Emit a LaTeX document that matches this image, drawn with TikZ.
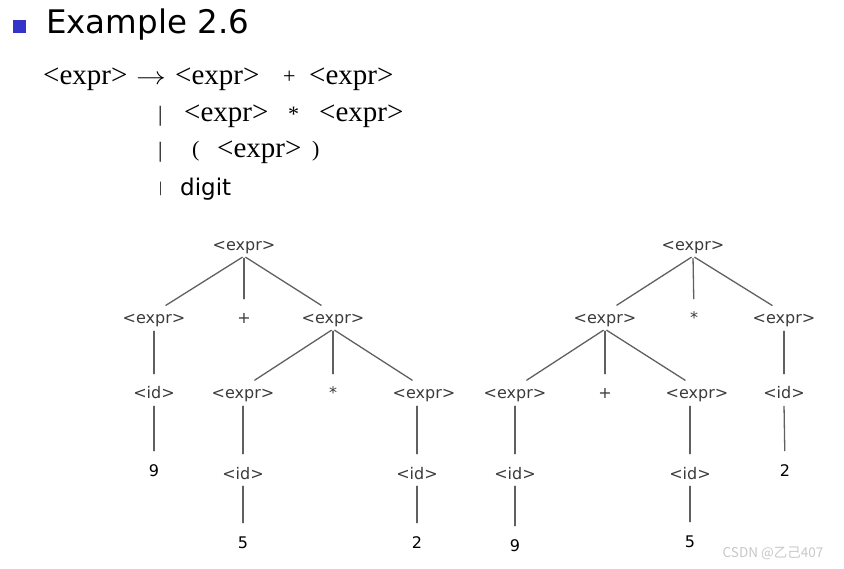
\documentclass[tikz,border=0pt]{standalone}
\usepackage{fontspec}
\setmainfont{Liberation Serif}
\newfontfamily\treefont{DejaVu Sans}
\newfontfamily\cjkfont{Noto Sans CJK SC}
\usetikzlibrary{positioning}

\definecolor{bulletblue}{HTML}{3434C8}
\definecolor{labelgray}{HTML}{3A3A3A}
\definecolor{edgegray}{HTML}{606060}

\tikzset{
  gram/.style={inner sep=0pt, anchor=base west, font=\fontsize{29}{29}\selectfont},
  gramsmall/.style={gram, font=\fontsize{22}{22}\selectfont},
  tn/.style={inner sep=2pt, text height=9pt, text depth=3pt, text=labelgray, font=\treefont\fontsize{16}{16}\selectfont},
  leaf/.style={tn, text=black},
  edge/.style={edgegray, line width=1.3pt, shorten <=2pt, shorten >=14pt}
}

\begin{document}
\begin{tikzpicture}[x=1pt, y=-1pt, line cap=round, line join=round]
		\useasboundingbox (0,0) rectangle (844,569);
		% title
		\fill [bulletblue] (13,20) rectangle (26,33);
		\node (title) [inner sep=0pt, anchor=base west, font=\treefont\fontsize{32.5}{32.5}\selectfont] at (46,34) {Example 2.6};
		% grammar
		\node (lhs) [gram] at (43,85) {<expr>};
		\node (arr) [gram] at (136,85) {\scalebox{1.2}[1]{$\rightarrow$}};
		\node (r1a) [gram] at (175,85) {<expr>};
		\node (r1op) [gramsmall] at (283,84) {+};
		\node (r1b) [gram] at (309,85) {<expr>};
		\node (bar2) [gramsmall] at (158,122) {|};
		\node (r2a) [gram] at (184,122) {<expr>};
		\node (r2op) [gramsmall] at (288,122) {*};
		\node (r2b) [gram] at (319,122) {<expr>};
		\node (bar3) [gramsmall] at (158,158) {|};
		\node (r3o) [gramsmall] at (192,157) {(};
		\node (r3a) [gram] at (217,158) {<expr>};
		\node (r3c) [gramsmall] at (312,157) {)};
		\node (bar4) [gram, font=\fontsize{15}{15}\selectfont] at (159,193) {|};
		\node (r4) [inner sep=0pt, anchor=base west, font=\treefont\fontsize{23}{23}\selectfont] at (180,196) {digit};

		% left tree: 9 + (5 * 2)
		\node (a) [tn] at (244,248) {<expr>};
		\node (a1) [tn] at (154,321) {<expr>};
		\node (a2) [tn] at (244,321) {+};
		\node (a3) [tn] at (333,321) {<expr>};
		\node (a11) [tn] at (154,396) {<id>};
		\node (a31) [tn] at (243,396) {<expr>};
		\node (a32) [tn] at (333,396) {*};
		\node (a33) [tn] at (424,396) {<expr>};
		\node (a111) [leaf] at (154,473) {9};
		\node (a311) [tn] at (243,476) {<id>};
		\node (a331) [tn] at (417,476) {<id>};
		\node (a3111) [leaf] at (243,545) {5};
		\node (a3311) [leaf] at (417,545) {2};
		\draw [edge] (a.south) -- (a1.north);
		\draw [edge] (a.south) -- (a2.north);
		\draw [edge] (a.south) -- (a3.north);
		\draw [edge] (a3.south) -- (a31.north);
		\draw [edge] (a3.south) -- (a32.north);
		\draw [edge] (a3.south) -- (a33.north);
		\draw [edge] (a1.south) -- (a11.north);
		\draw [edge] (a11.south) -- (a111.north);
		\draw [edge] (a31.south) -- (a311.north);
		\draw [edge] (a311.south) -- (a3111.north);
		\draw [edge] (a33.south -| a331) -- (a331.north);
		\draw [edge] (a331.south) -- (a3311.north);

		% right tree: (9 + 5) * 2
		\node (b) [tn] at (693,248) {<expr>};
		\node (b1) [tn] at (605,321) {<expr>};
		\node (b2) [tn] at (694,321) {*};
		\node (b3) [tn] at (784,321) {<expr>};
		\node (b11) [tn] at (515,396) {<expr>};
		\node (b12) [tn] at (605,396) {+};
		\node (b13) [tn] at (697,396) {<expr>};
		\node (b31) [tn] at (784,396) {<id>};
		\node (b111) [tn] at (515,476) {<id>};
		\node (b131) [tn] at (690,476) {<id>};
		\node (b311) [leaf] at (785,473) {2};
		\node (b1111) [leaf] at (515,548) {9};
		\node (b1311) [leaf] at (690,544) {5};
		\draw [edge] (b.south) -- (b1.north);
		\draw [edge] (b.south) -- (b2.north);
		\draw [edge] (b.south) -- (b3.north);
		\draw [edge] (b1.south) -- (b11.north);
		\draw [edge] (b1.south) -- (b12.north);
		\draw [edge] (b1.south) -- (b13.north);
		\draw [edge] (b3.south) -- (b31.north);
		\draw [edge] (b31.south) -- (b311.north);
		\draw [edge] (b11.south) -- (b111.north);
		\draw [edge] (b111.south) -- (b1111.north);
		\draw [edge] (b13.south -| b131) -- (b131.north);
		\draw [edge] (b131.south) -- (b1311.north);

		% watermark
		\node (mark) [inner sep=0pt, text=black!22, font=\cjkfont\fontsize{13.5}{13.5}\selectfont] at (773,553) {CSDN @乙己407};
	\end{tikzpicture}
\end{document}
